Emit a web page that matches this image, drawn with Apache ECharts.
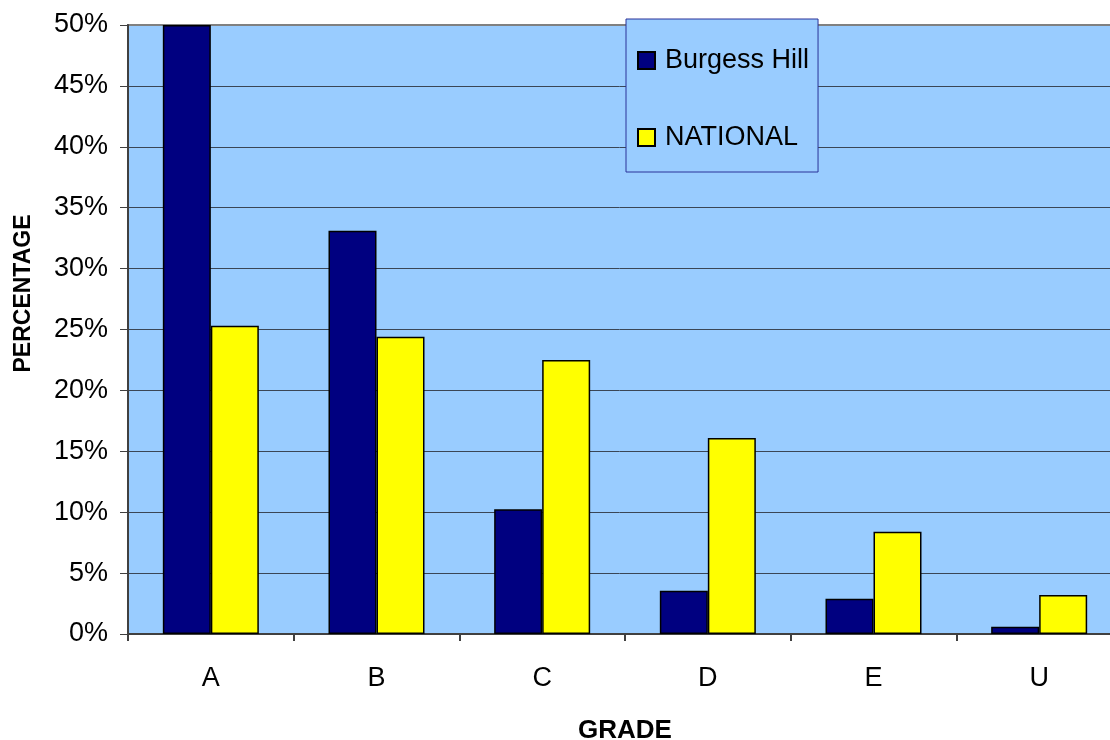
<!DOCTYPE html>
<html>
<head>
<meta charset="utf-8">
<script src="https://cdn.jsdelivr.net/npm/echarts@6/dist/echarts.min.js"></script>
<style>
html,body{margin:0;padding:0;background:#fff;overflow:hidden;}
#chart{width:1110px;height:740px;}
</style>
</head>
<body>
<div id="chart"></div>
<script>
const categories = ['A', 'B', 'C', 'D', 'E', 'U'];
const burgessHill = [50.0, 33.1, 10.25, 3.55, 2.9, 0.6];
const national = [25.3, 24.4, 22.5, 16.1, 8.4, 3.2];
const seriesNames = ['Burgess Hill', 'NATIONAL'];

const FONT = '"Liberation Sans", Arial, sans-serif';
const gridColors = ['#3a4656','#3a4656','#3a4656','#3a4656','#3a4656','#3a4656','#3a4656','#3a4656','#3a4656','#3a4656','#808080'];

const chart = echarts.init(document.getElementById('chart'));
chart.setOption({
  animation: false,
  backgroundColor: '#ffffff',
  textStyle: { fontFamily: FONT },
  grid: {
    left: 128, top: 25, bottom: 106, right: -12,
    outerBoundsMode: 'none',
    show: true, backgroundColor: '#99CCFF', borderColor: '#808080', borderWidth: 2,
    containLabel: false
  },
  legend: {
    orient: 'vertical',
    left: 626, top: 19,
    data: seriesNames,
    backgroundColor: '#99CCFF',
    borderColor: '#2a3399',
    borderWidth: 1,
    padding: [28, 9, 21, 11],
    itemGap: 50,
    itemWidth: 17,
    itemHeight: 17,
    icon: 'rect',
    textStyle: { fontSize: 27, color: '#000', fontFamily: FONT, padding: [0, 0, 0, 5] }
  },
  xAxis: {
    type: 'category',
    data: categories,
    name: 'GRADE',
    nameLocation: 'middle',
    nameGap: 84,
    nameTextStyle: { fontSize: 26, fontWeight: 'bold', color: '#000', fontFamily: FONT },
    axisLine: { lineStyle: { color: '#404040', width: 2 } },
    axisTick: { show: true, length: 7, lineStyle: { color: '#404040', width: 2 } },
    axisLabel: { fontSize: 27, color: '#000', margin: 31, fontFamily: FONT },
    splitLine: { show: false }
  },
  yAxis: {
    type: 'value',
    min: 0, max: 50, interval: 5,
    name: 'PERCENTAGE',
    nameLocation: 'middle',
    nameGap: 93,
    nameRotate: 90,
    nameTextStyle: { fontSize: 23, fontWeight: 'bold', color: '#000', fontFamily: FONT, padding: [0, 0, 0, 72] },
    axisLine: { show: true, lineStyle: { color: '#404040', width: 2 } },
    axisTick: { show: true, length: 8, lineStyle: { color: '#404040', width: 1 } },
    axisLabel: { fontSize: 27, color: '#000', margin: 20, formatter: '{value}%', fontFamily: FONT },
    splitLine: { show: true, lineStyle: { color: gridColors, width: 1 } }
  },
  series: [
    {
      name: seriesNames[0], type: 'bar', data: burgessHill,
      barWidth: 48, barGap: '0%',
      itemStyle: { color: '#000080', borderColor: '#000', borderWidth: 1.5 }
    },
    {
      name: seriesNames[1], type: 'bar', data: national,
      barWidth: 48, barGap: '0%',
      itemStyle: { color: '#FFFF00', borderColor: '#000', borderWidth: 1.5 }
    }
  ]
});
</script>
</body>
</html>
